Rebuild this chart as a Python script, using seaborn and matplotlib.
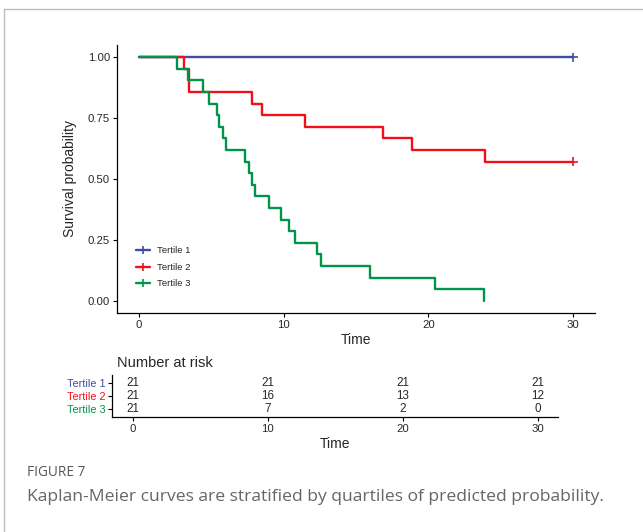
import numpy as np
import pandas as pd
import matplotlib
matplotlib.use('Agg')
import matplotlib.pyplot as plt
import seaborn as sns
from matplotlib.lines import Line2D

sns.set_style('white')
plt.rcParams['font.family'] = ['Liberation Sans', 'DejaVu Sans']

# ---------------------------------------------------------------
# data: follow-up times (event = 1, censored = 0) per tertile
# ---------------------------------------------------------------
groups = ['Tertile 1', 'Tertile 2', 'Tertile 3']
colors = ['#3C4DA3', '#F01018', '#00944A']

t1_time = [30.0] * 21
t1_event = [0] * 21

t2_time = [3.15, 3.5, 3.5, 7.85, 8.5, 11.45, 16.85, 18.9, 23.95] + [30.0] * 12
t2_event = [1] * 9 + [0] * 12

t3_time = [2.65, 3.4, 4.45, 4.85, 5.4, 5.55, 5.8, 6.0, 7.35, 7.6, 7.85,
           8.05, 9.0, 9.8, 10.4, 10.8, 12.3, 12.6, 15.95, 20.45, 23.85]
t3_event = [1] * 21

risk_times = [0, 10, 20, 30]


def km_curve(time, event):
    time = np.asarray(time)
    event = np.asarray(event)
    xs, ys = [0.0], [1.0]
    s = 1.0
    for t in np.unique(time):
        n = (time >= t).sum()
        d = ((time == t) & (event == 1)).sum()
        if d > 0:
            s *= 1 - d / n
            xs.append(t)
            ys.append(s)
    last = time.max()
    if xs[-1] < last:
        xs.append(last)
        ys.append(s)
    return xs, ys


raw = [(t1_time, t1_event), (t2_time, t2_event), (t3_time, t3_event)]
rows = []
censor_pts = []
for g, (tt, ee) in zip(groups, raw):
    xs, ys = km_curve(tt, ee)
    rows += [{'time': x, 'surv': y, 'strata': g} for x, y in zip(xs, ys)]
    cens = sorted(set(t for t, e in zip(tt, ee) if e == 0))
    for c in cens:
        xs_arr = np.array(xs)
        censor_pts.append({'time': c, 'surv': ys[np.searchsorted(xs_arr, c, side='right') - 1],
                           'strata': g})
curves = pd.DataFrame(rows)
censor = pd.DataFrame(censor_pts)

fig = plt.figure(figsize=(6.43, 5.32), dpi=100)

# ---------------- survival curves ----------------
ax = fig.add_axes([0.182, 0.4117, 0.743, 0.5037])
sns.lineplot(data=curves, x='time', y='surv', hue='strata', hue_order=groups,
             palette=colors, drawstyle='steps-post', linewidth=1.7,
             estimator=None, ax=ax, legend=False)
sns.scatterplot(data=censor, x='time', y='surv', hue='strata', hue_order=groups,
                palette=colors, marker='+', s=45, linewidth=1.2, ax=ax, legend=False)
ax.set_xlim(-1.5, 31.5)
ax.set_ylim(-0.05, 1.05)
ax.set_xticks([0, 10, 20, 30])
ax.set_yticks([0, 0.25, 0.5, 0.75, 1.0])
ax.set_yticklabels(['0.00', '0.25', '0.50', '0.75', '1.00'])
ax.set_xlabel('Time', fontsize=10, labelpad=2)
ax.set_ylabel('Survival probability', fontsize=10, labelpad=8)
sns.despine(ax=ax)
for sp in ['left', 'bottom']:
    ax.spines[sp].set_color('black')
    ax.spines[sp].set_linewidth(0.9)
ax.tick_params(axis='both', direction='out', length=3, width=0.8, color='black',
               labelsize=8.2, pad=2, left=True, bottom=True)

handles = [Line2D([], [], color=c, lw=1.7, marker='+', markersize=6, markeredgewidth=1.2)
           for c in colors]
ax.legend(handles, groups, loc='center left', bbox_to_anchor=(0.04, 0.17),
          frameon=False, fontsize=6.8, handlelength=1.5, handletextpad=0.7,
          labelspacing=0.8, borderpad=0, borderaxespad=0)

# ---------------- risk table ----------------
rt = fig.add_axes([0.1747, 0.2156, 0.6933, 0.0795])
rt.set_xlim(-1.5, 31.5)
rt.set_ylim(2.6, -0.6)
for i, (tt, ee) in enumerate(raw):
    arr = np.asarray(tt)
    for t in risk_times:
        rt.text(t, i, str(int((arr >= t).sum())), ha='center', va='center', fontsize=8.4)
rt.set_yticks([0, 1, 2])
rt.set_yticklabels(groups)
for lab, c in zip(rt.get_yticklabels(), colors):
    lab.set_color(c)
rt.set_xticks(risk_times)
rt.set_xlabel('Time', fontsize=10, labelpad=2)
rt.set_title('Number at risk', loc='left', fontsize=10.5, pad=6, x=0.01)
sns.despine(ax=rt)
for sp in ['left', 'bottom']:
    rt.spines[sp].set_color('black')
    rt.spines[sp].set_linewidth(0.9)
rt.tick_params(axis='both', direction='out', length=3, width=0.8, color='black',
               labelsize=7.8, pad=2, left=True, bottom=True)
rt.tick_params(axis='x', labelsize=8.2)

# ---------------- page frame & caption ----------------
fig.add_artist(Line2D([3.5 / 643, 1], [1 - 9 / 532, 1 - 9 / 532], color='#BDBDBD', lw=1.0))
fig.add_artist(Line2D([3.5 / 643, 3.5 / 643], [0, 1 - 9 / 532], color='#BDBDBD', lw=1.0))
fig.text(27 / 643, 1 - 472 / 532, 'FIGURE 7', fontsize=9.8, color='#555555',
         family=['Open Sans', 'DejaVu Sans'], va='center', ha='left')
fig.text(27 / 643, 1 - 497 / 532,
         'Kaplan-Meier curves are stratified by quartiles of predicted probability.',
         fontsize=12.6, color='#666666', family=['Open Sans', 'DejaVu Sans'],
         va='center', ha='left')

fig.savefig('out.png', dpi=100)
